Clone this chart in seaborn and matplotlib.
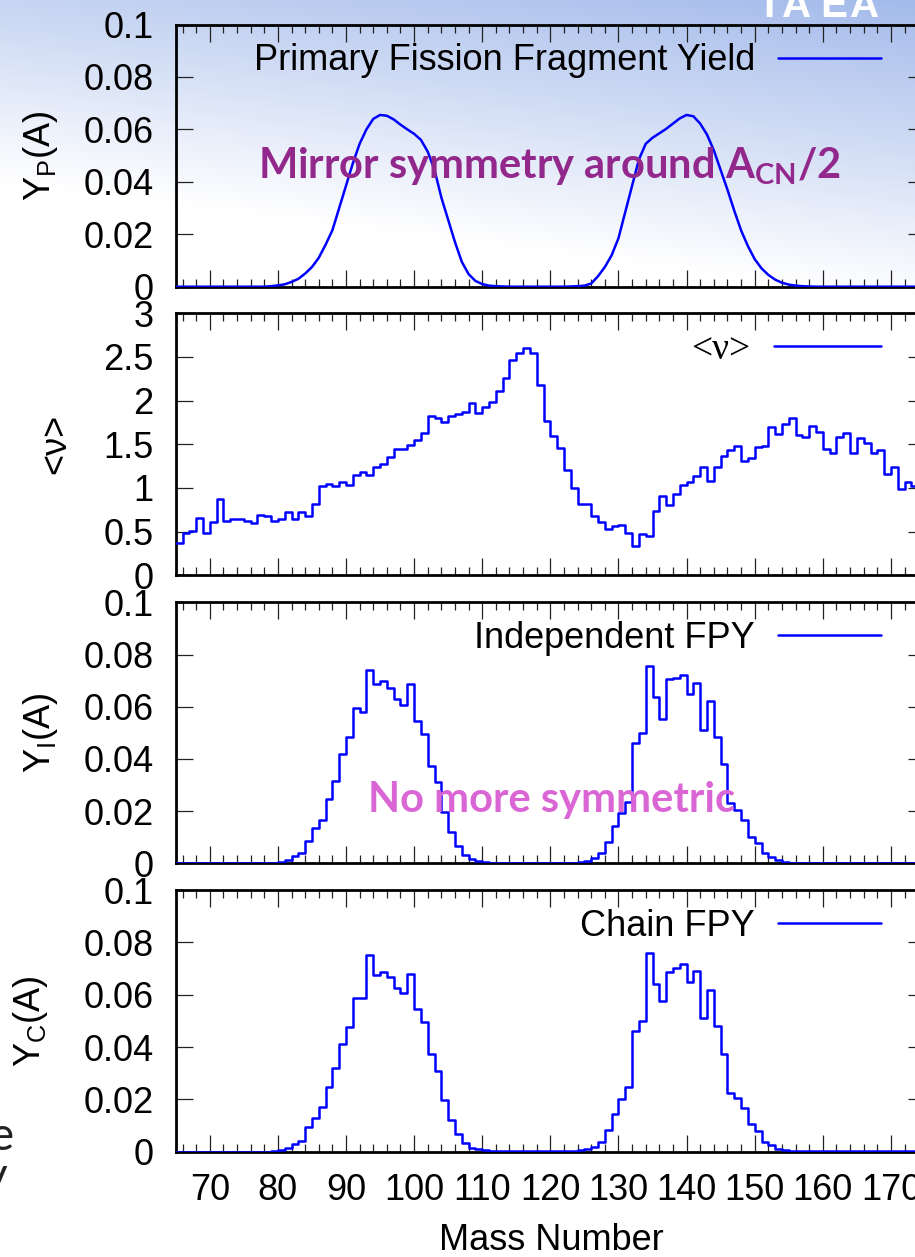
import numpy as np
import matplotlib
matplotlib.use("Agg")
import matplotlib.pyplot as plt
from matplotlib.ticker import MultipleLocator, FuncFormatter
from matplotlib.font_manager import FontProperties
import seaborn as sns
import pandas as pd

# ---------------- data ----------------
mass_number = list(range(65, 176))

primary_yield = [
    0, 0, 0, 0, 0, 0, 0, 0, 0, 0, 0, 0, 0, 0,
    0.0002, 0.0005, 0.0009, 0.0018, 0.0030, 0.0050, 0.0075, 0.0110, 0.0160, 0.0215,
    0.0300, 0.0385, 0.0470, 0.0545, 0.0600, 0.0640, 0.0655, 0.0652, 0.0638, 0.0618,
    0.0600, 0.0583, 0.0560, 0.0515, 0.0445, 0.0340, 0.0255, 0.0170, 0.0095, 0.0048,
    0.0022, 0.0010, 0.0004, 0.0002, 0.0001, 0, 0, 0, 0, 0,
    0, 0, 0, 0, 0.0001, 0.0002, 0.0004, 0.0012, 0.0040, 0.0075,
    0.0120, 0.0185, 0.0285, 0.0385, 0.0485, 0.0545, 0.0568, 0.0585, 0.0602, 0.0622,
    0.0642, 0.0655, 0.0650, 0.0622, 0.0580, 0.0520, 0.0445, 0.0370, 0.0290, 0.0215,
    0.0155, 0.0105, 0.0070, 0.0045, 0.0027, 0.0015, 0.0008, 0.0004, 0.0002, 0.0001,
    0, 0, 0, 0, 0, 0, 0, 0, 0, 0,
    0, 0, 0, 0, 0, 0, 0,
]

nu_bar = [
    0.37, 0.48, 0.51, 0.66, 0.49, 0.61, 0.87, 0.62, 0.65, 0.65,
    0.625, 0.595, 0.69, 0.68, 0.625, 0.645, 0.72, 0.645, 0.72, 0.68,
    0.82, 1.02, 1.04, 1.02, 1.07, 1.03, 1.15, 1.18, 1.15, 1.24,
    1.28, 1.35, 1.45, 1.45, 1.49, 1.55, 1.63, 1.82, 1.80, 1.76,
    1.82, 1.85, 1.87, 1.97, 1.855, 1.93, 1.99, 2.11, 2.26, 2.47,
    2.55, 2.60, 2.54, 2.18, 1.77, 1.595, 1.46, 1.21, 1.00, 0.82,
    0.82, 0.68, 0.61, 0.53, 0.57, 0.58, 0.48, 0.34, 0.47, 0.45,
    0.74, 0.91, 0.80, 0.93, 1.03, 1.07, 1.14, 1.24, 1.08, 1.24,
    1.37, 1.43, 1.48, 1.31, 1.34, 1.47, 1.48, 1.70, 1.62, 1.73,
    1.80, 1.61, 1.58, 1.71, 1.645, 1.45, 1.40, 1.58, 1.63, 1.40,
    1.57, 1.52, 1.40, 1.43, 1.16, 1.24, 0.985, 1.07, 1.02, 1.00,
    1.00,
]

independent_fpy = [
    0, 0, 0, 0, 0, 0, 0, 0, 0, 0,
    0, 0, 0, 0,
    0.0003, 0.0006, 0.0013, 0.0028, 0.0041, 0.0087, 0.0136, 0.0166, 0.0245, 0.0315,
    0.0419, 0.0485, 0.0594, 0.0581, 0.0741, 0.0686, 0.0698, 0.0670, 0.0630, 0.0607,
    0.0686, 0.0545, 0.0494, 0.0374, 0.0310, 0.0198, 0.0121, 0.0066, 0.0032, 0.0016,
    0.0010, 0.0005, 0.0003, 0.0002, 0.0001, 0.0001, 0.0001, 0.0001, 0.0001, 0.0001,
    0.0001, 0.0001, 0.0001, 0.0001, 0.0002, 0.0005, 0.0010, 0.0019, 0.0038, 0.0080,
    0.0144, 0.0191, 0.0236, 0.0460, 0.0498, 0.0756, 0.0638, 0.0552, 0.0706, 0.0711,
    0.0721, 0.0649, 0.0692, 0.0511, 0.0623, 0.0485, 0.0379, 0.0230, 0.0204, 0.0166,
    0.0100, 0.0077, 0.0038, 0.0026, 0.0013, 0.0006, 0.0003, 0.0002, 0.0001, 0.0001,
    0.0001, 0.0001, 0.0001, 0.0001, 0.0001, 0.0001, 0.0001, 0.0001, 0.0001, 0.0001,
    0.0001, 0.0001, 0.0001, 0.0001, 0.0001, 0.0001, 0.0001,
]

chain_fpy = [
    0, 0, 0, 0, 0, 0, 0, 0, 0, 0,
    0, 0, 0, 0,
    0.0003, 0.0006, 0.0013, 0.0028, 0.0042, 0.0093, 0.0127, 0.0172, 0.0248, 0.0319,
    0.0410, 0.0475, 0.0586, 0.0586, 0.0752, 0.0675, 0.0688, 0.0666, 0.0624, 0.0608,
    0.0679, 0.0544, 0.0494, 0.0372, 0.0310, 0.0197, 0.0121, 0.0068, 0.0034, 0.0015,
    0.0009, 0.0005, 0.0003, 0.0002, 0.0001, 0.0001, 0.0001, 0.0001, 0.0001, 0.0001,
    0.0001, 0.0001, 0.0001, 0.0001, 0.0002, 0.0005, 0.0009, 0.0019, 0.0038, 0.0083,
    0.0144, 0.0200, 0.0246, 0.0461, 0.0500, 0.0758, 0.0640, 0.0576, 0.0686, 0.0701,
    0.0716, 0.0647, 0.0690, 0.0512, 0.0618, 0.0480, 0.0373, 0.0223, 0.0204, 0.0166,
    0.0105, 0.0079, 0.0038, 0.0025, 0.0010, 0.0006, 0.0003, 0.0002, 0.0001, 0.0001,
    0.0001, 0.0001, 0.0001, 0.0001, 0.0001, 0.0001, 0.0001, 0.0001, 0.0001, 0.0001,
    0.0001, 0.0001, 0.0001, 0.0001, 0.0001, 0.0001, 0.0001,
]

series_labels = ["Primary Fission Fragment Yield", "<\u03bd>", "Independent FPY", "Chain FPY"]
y_labels = [r"Y$_{\mathregular{P}}$(A)", "<\u03bd>", r"Y$_{\mathregular{I}}$(A)", r"Y$_{\mathregular{C}}$(A)"]
y_limits = [(0, 0.1), (0, 3), (0, 0.1), (0, 0.1)]
y_steps = [0.02, 0.5, 0.02, 0.02]
x_label = "Mass Number"
note_top = r"Mirror symmetry around A$_{\mathregular{CN}}$/2"
note_mid = "No more symmetric"

df = pd.DataFrame({
    "A": mass_number,
    "Yp": primary_yield,
    "nu": nu_bar,
    "Yi": independent_fpy,
    "Yc": chain_fpy,
})

# ---------------- style ----------------
sns.set_style("ticks")
plt.rcParams["font.family"] = ["Liberation Sans", "DejaVu Sans"]
plt.rcParams["mathtext.fontset"] = "dejavusans"
plt.rcParams["axes.unicode_minus"] = False
plt.rcParams["text.color"] = "black"
plt.rcParams["axes.labelcolor"] = "black"
plt.rcParams["xtick.color"] = "black"
plt.rcParams["ytick.color"] = "black"
plt.rcParams["xtick.labelcolor"] = "black"
plt.rcParams["ytick.labelcolor"] = "black"

W, H = 915, 1257
fig = plt.figure(figsize=(W / 100, H / 100), dpi=100)

# slide-like background gradient (light blue at the top, fading to white)
bg = fig.add_axes([0, 0, 1, 1], zorder=-10)
xx, yy = np.meshgrid(np.arange(W), np.arange(H))
t = np.clip(1 - (yy + 0.127 * (W - xx)) / 298.0, 0, 1)
top_col = np.array([0.64, 0.73, 0.92])
img = 1 - t[..., None] * (1 - top_col)
bg.imshow(img, aspect="auto", extent=(0, W, H, 0), interpolation="bilinear")
bg.set_xlim(0, W)
bg.set_ylim(H, 0)
bg.set_axis_off()

ax_left_px, ax_right_px = 175.7, 925.0
panel_px = [(24.5, 286.7), (313.3, 575.3), (602.3, 863.3), (890.0, 1151.7)]
legend_y_px = [61, 350, 638, 926]
ylabel_x_px = [41, 56, 41, 31]
blue = "#0000ff"
FS = 26

columns = ["Yp", "nu", "Yi", "Yc"]
axes = []
for i, (ytop, ybot) in enumerate(panel_px):
    ax = fig.add_axes([ax_left_px / W, 1 - ybot / H,
                       (ax_right_px - ax_left_px) / W, (ybot - ytop) / H])
    ax.set_facecolor("none")
    kw = {} if i == 0 else {"drawstyle": "steps-post"}
    sns.lineplot(data=df, x="A", y=columns[i], ax=ax, color=blue, lw=1.8,
                 label=series_labels[i], zorder=3, **kw)
    ax.set_xlim(65, 175)
    ax.set_ylim(*y_limits[i])
    ax.xaxis.set_major_locator(MultipleLocator(10))
    ax.xaxis.set_minor_locator(MultipleLocator(2))
    ax.yaxis.set_major_locator(MultipleLocator(y_steps[i]))
    ax.yaxis.set_major_formatter(FuncFormatter(lambda v, p: f"{v:g}"))
    ax.xaxis.set_major_formatter(FuncFormatter(lambda v, p: f"{v:g}"))
    for s in ax.spines.values():
        s.set_linewidth(2.0)
        s.set_color("black")
        s.set_visible(True)
    ax.tick_params(axis="both", which="major", direction="in", length=12, width=0.9,
                   color="#222222", labelcolor="black", top=True, right=True,
                   labelsize=FS, pad=16)
    ax.tick_params(axis="x", which="minor", direction="in", length=6, width=0.9,
                   color="#222222", top=True, bottom=True)
    ax.tick_params(axis="x", labelbottom=(i == 3), pad=15)
    ax.set_xlabel("")
    ax.set_ylabel(y_labels[i], fontsize=FS, va="center", color="black")
    ax.yaxis.set_label_coords((ylabel_x_px[i] - ax_left_px) / (ax_right_px - ax_left_px), 0.5)
    prop = FontProperties(family=["Liberation Serif"] if i == 1 else ["Liberation Sans"],
                          size=FS + 1 if i == 1 else FS)
    leg = ax.legend(loc="center right", bbox_to_anchor=(881 / W, 1 - legend_y_px[i] / H),
                    bbox_transform=fig.transFigure, frameon=False, markerfirst=False,
                    handlelength=2.85, handletextpad=0.64, borderpad=0, borderaxespad=0,
                    prop=prop)
    for txt in leg.get_texts():
        txt.set_color("black")
    axes.append(ax)

ax4 = axes[3]
ax4.set_xlabel(x_label, fontsize=FS, va="center", color="black")
ax4.xaxis.set_label_coords((551 - ax_left_px) / (ax_right_px - ax_left_px),
                           -(1240 - 1151.7) / (1151.7 - 890.0))

# annotations
fig.text(258 / W, 1 - 178 / H, note_top, fontsize=30, fontweight="bold",
         family=["Lato", "DejaVu Sans"], color="#92288c", ha="left", va="baseline")
fig.text(368 / W, 1 - 811.7 / H, note_mid, fontsize=30, fontweight="bold",
         family=["Lato", "DejaVu Sans"], color="#da66d6", ha="left", va="baseline")

# slide decorations
for ch, xp in zip("IAEA", [763, 782, 820, 850]):
    fig.text(xp / W, 1 - 16.7 / H, ch, fontsize=29, fontweight="bold",
             family=["Liberation Sans"], color="white", ha="left", va="baseline")
fig.text(13 / W, 1 - 1150 / H, "e", fontsize=33, family=["Lato"], color="#222222",
         ha="right", va="baseline")
fig.text(7 / W, 1 - 1190 / H, "y", fontsize=33, family=["Lato"], color="#222222",
         ha="right", va="baseline")

fig.savefig("out.png", dpi=100)
